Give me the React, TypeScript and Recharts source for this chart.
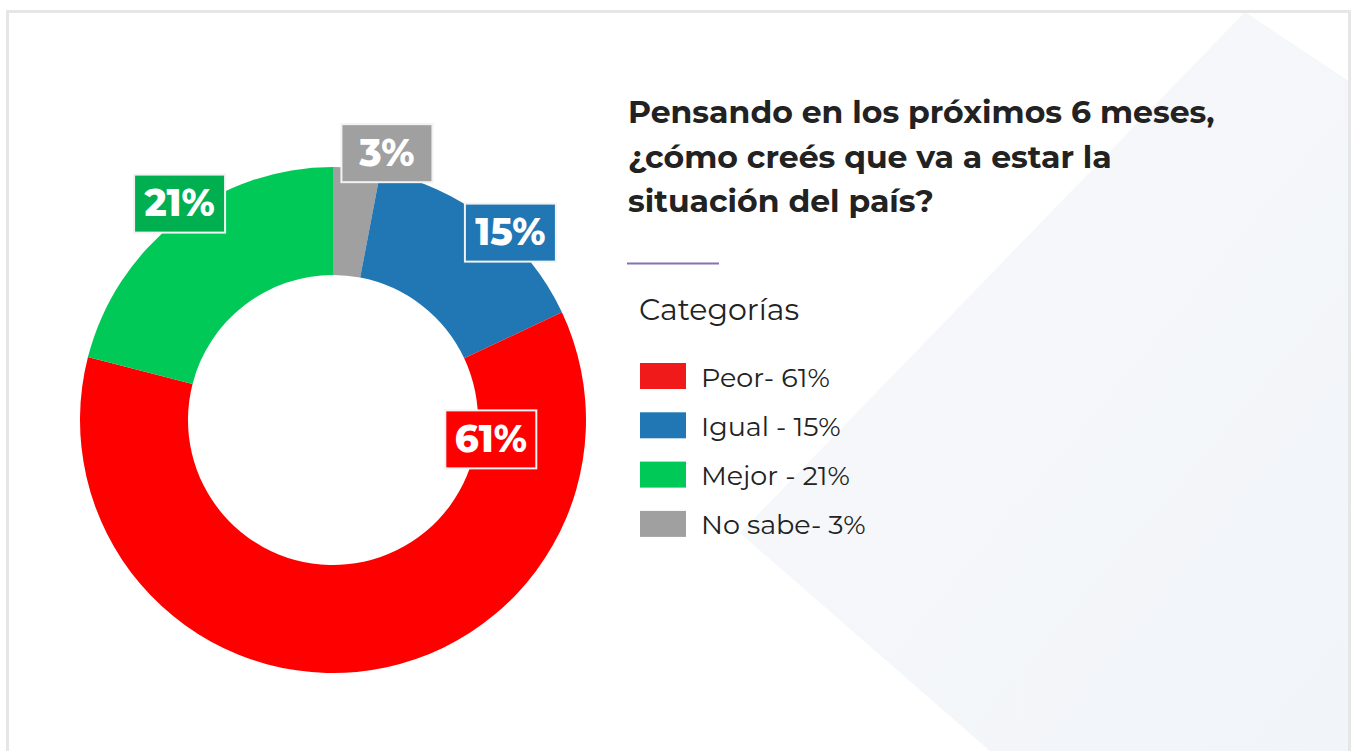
import React from 'react';
import { PieChart, Pie, Cell } from 'recharts';

// ---- data ----
const CATEGORIES = ['Peor', 'Igual', 'Mejor', 'No sabe'];
const VALUES = [61, 15, 21, 3];
const LEGEND_LABELS = ['Peor- 61%', 'Igual - 15%', 'Mejor - 21%', 'No sabe- 3%'];
const SLICE_COLORS = ['#ff0000', '#2077b4', '#00c957', '#a0a0a0'];
const LEGEND_COLORS = ['#f01a1a', '#2077b4', '#00c957', '#a0a0a0'];
const LABEL_COLORS = ['#ff0000', '#2077b4', '#00b050', '#a0a0a0'];
// clockwise order of slices starting at 12 o'clock
const PIE_ORDER = ['No sabe', 'Igual', 'Peor', 'Mejor'];
const TITLE_LINES = ['Pensando en los próximos 6 meses,', '¿cómo creés que va a estar la', 'situación del país?'];
const LEGEND_TITLE = 'Categorías';

const pieData = PIE_ORDER.map((n) => {
  const i = CATEGORIES.indexOf(n);
  return { name: n, value: VALUES[i], color: SLICE_COLORS[i], labelColor: LABEL_COLORS[i] };
});

// ---- label placement styling ----
const LABEL_W = 91;
const LABEL_H = 58;
const LABEL_R_OFFSET = 12;
const LABEL_NUDGE: Record<string, [number, number]> = {
  'No sabe': [29, -3],
  Igual: [15, 22],
  Mejor: [9, -7],
};
const MAJOR_LABEL_ANGLE = -7;
const FONT = 'Montserrat, "DejaVu Sans", sans-serif';
const RAD = Math.PI / 180;

const renderLabel = (props: any) => {
  const { cx, cy, midAngle, innerRadius, outerRadius, percent, index, value } = props;
  const d = pieData[index];
  let x: number;
  let y: number;
  if (percent > 0.5) {
    const r = innerRadius + 14;
    x = cx + r * Math.cos(MAJOR_LABEL_ANGLE * RAD);
    y = cy - r * Math.sin(MAJOR_LABEL_ANGLE * RAD);
  } else {
    const r = outerRadius + LABEL_R_OFFSET;
    const n = LABEL_NUDGE[d.name] || [0, 0];
    x = cx + r * Math.cos(midAngle * RAD) + n[0];
    y = cy - r * Math.sin(midAngle * RAD) + n[1];
  }
  return (
    <g key={`lbl-${index}`}>
      <rect
        x={x - LABEL_W / 2}
        y={y - LABEL_H / 2}
        width={LABEL_W}
        height={LABEL_H}
        fill={d.labelColor}
        stroke="#f2f2f2"
        strokeWidth={2}
      />
      <text
        x={x}
        y={y + 12.5}
        textAnchor="middle"
        fill="#ffffff"
        fontFamily={FONT}
        fontWeight={800}
        fontSize={37}
      >
        {`${value}%`}
      </text>
    </g>
  );
};

export default function App() {
  return (
    <div style={{ position: 'absolute', left: 0, top: 0, width: 1356, height: 751, overflow: 'hidden', background: '#ffffff' }}>
      <svg width={1356} height={751} style={{ position: 'absolute', left: 0, top: 0 }}>
        <defs>
          <linearGradient id="bgShape" x1="0" y1="0" x2="1" y2="1">
            <stop offset="0%" stopColor="#f8f8fa" />
            <stop offset="100%" stopColor="#f1f5f9" />
          </linearGradient>
        </defs>
        <polygon points="1245,12 1350,82 1350,751 990,751 740,533" fill="url(#bgShape)" />
        <rect x={7.5} y={11.5} width={1342} height={780} fill="none" stroke="#e6e6e6" strokeWidth={3} />
      </svg>
      <div style={{ position: 'absolute', left: 0, top: 0 }}>
        <PieChart width={1356} height={751} margin={{ top: 0, right: 0, bottom: 0, left: 0 }}>
          <Pie
            data={pieData}
            dataKey="value"
            nameKey="name"
            cx={333}
            cy={420}
            innerRadius={145}
            outerRadius={253}
            startAngle={90}
            endAngle={-270}
            stroke="none"
            isAnimationActive={false}
            labelLine={false}
            label={renderLabel}
          >
            {pieData.map((d) => (
              <Cell key={d.name} fill={d.color} />
            ))}
          </Pie>
        </PieChart>
      </div>
      <svg width={1356} height={751} style={{ position: 'absolute', left: 0, top: 0, pointerEvents: 'none' }}>
        {TITLE_LINES.map((t, i) => (
          <text key={t} x={628} y={123 + i * 44.5} fontFamily={FONT} fontWeight={700} fontSize={31.5} fill="#222222">
            {t}
          </text>
        ))}
        <line x1={627} x2={719} y1={263.5} y2={263.5} stroke="#8572b0" strokeWidth={2} />
        <text x={639} y={320} fontFamily={FONT} fontSize={30} fill="#222222">
          {LEGEND_TITLE}
        </text>
        {LEGEND_LABELS.map((l, i) => (
          <g key={l}>
            <rect x={640} y={363 + i * 49.3} width={46} height={26} fill={LEGEND_COLORS[i]} />
            <text x={701} y={386.5 + i * 49.3} fontFamily={FONT} fontSize={27} fill="#222222">
              {l}
            </text>
          </g>
        ))}
      </svg>
    </div>
  );
}
